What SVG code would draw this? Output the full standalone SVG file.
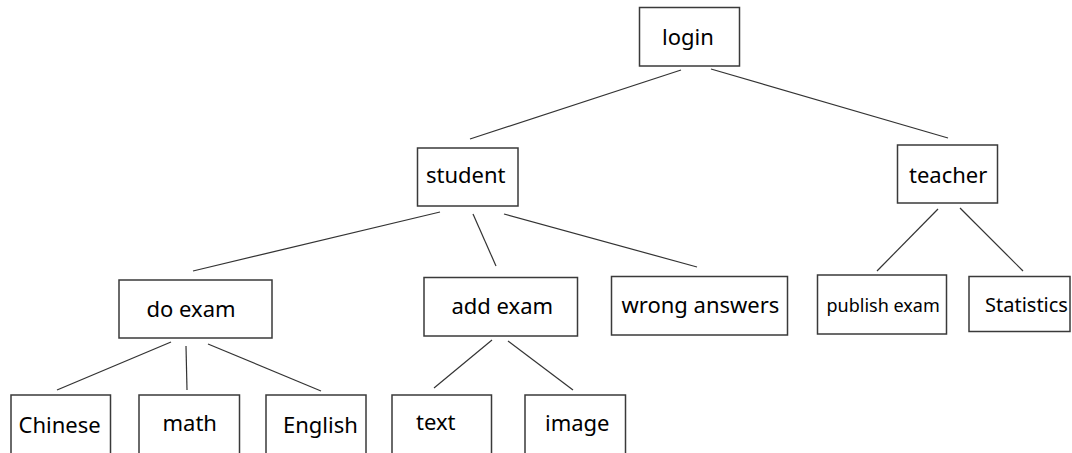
<svg xmlns="http://www.w3.org/2000/svg" width="1072" height="453" viewBox="0 0 1072 453">
  <style>
    .box { fill: #ffffff; stroke: #3a3a3a; stroke-width: 1.5; }
    .lbl { font-family: "Noto Sans", "Open Sans", sans-serif; font-size: 22px; fill: #000000; }
    .edge { stroke: #333333; stroke-width: 1.2; fill: none; }
  </style>
  <rect width="1072" height="453" fill="#ffffff"/>

  <!-- connectors -->
  <g id="connectors" class="edge">
    <line x1="681" y1="70" x2="470" y2="139"/>
    <line x1="711" y1="69" x2="948" y2="138"/>
    <line x1="440" y1="212" x2="193" y2="271"/>
    <line x1="473" y1="214" x2="496" y2="266"/>
    <line x1="504" y1="214" x2="697" y2="267"/>
    <line x1="938" y1="209" x2="877" y2="271"/>
    <line x1="960" y1="208" x2="1023" y2="271"/>
    <line x1="171" y1="342" x2="57" y2="390"/>
    <line x1="186" y1="346" x2="187" y2="390"/>
    <line x1="208" y1="344" x2="321" y2="391"/>
    <line x1="492" y1="340" x2="434" y2="388"/>
    <line x1="508" y1="341" x2="573" y2="390"/>
  </g>

  <g id="login">
    <rect class="box" x="639.5" y="7.5" width="100" height="58.5"/>
    <text class="lbl" x="662" y="45">login</text>
  </g>
  <g id="student">
    <rect class="box" x="417.5" y="148" width="100.5" height="58"/>
    <text class="lbl" x="426" y="183">student</text>
  </g>
  <g id="teacher">
    <rect class="box" x="897.5" y="145" width="100" height="58"/>
    <text class="lbl" x="909" y="183">teacher</text>
  </g>
  <g id="do-exam">
    <rect class="box" x="119" y="280" width="153" height="58"/>
    <text class="lbl" x="146.5" y="317">do exam</text>
  </g>
  <g id="add-exam">
    <rect class="box" x="424" y="277.5" width="153.5" height="58.5"/>
    <text class="lbl" x="451.5" y="314">add exam</text>
  </g>
  <g id="wrong-answers">
    <rect class="box" x="611.5" y="276.5" width="176" height="58.5"/>
    <text class="lbl" x="621.5" y="313">wrong answers</text>
  </g>
  <g id="publish-exam">
    <rect class="box" x="817.5" y="275" width="129" height="59"/>
    <text class="lbl" x="826.5" y="312" style="font-size:18px">publish exam</text>
  </g>
  <g id="statistics">
    <rect class="box" x="969" y="276.5" width="101" height="55"/>
    <text class="lbl" x="985" y="312" style="font-size:20px">Statistics</text>
  </g>
  <g id="chinese">
    <rect class="box" x="11" y="395" width="99.5" height="80"/>
    <text class="lbl" x="18.5" y="433">Chinese</text>
  </g>
  <g id="math">
    <rect class="box" x="139" y="395" width="100.5" height="80"/>
    <text class="lbl" x="162.5" y="431">math</text>
  </g>
  <g id="english">
    <rect class="box" x="266" y="395" width="100" height="80"/>
    <text class="lbl" x="283" y="433">English</text>
  </g>
  <g id="text">
    <rect class="box" x="392" y="395" width="99.5" height="80"/>
    <text class="lbl" x="416" y="430">text</text>
  </g>
  <g id="image">
    <rect class="box" x="525" y="395" width="100.5" height="80"/>
    <text class="lbl" x="545" y="431">image</text>
  </g>
</svg>
